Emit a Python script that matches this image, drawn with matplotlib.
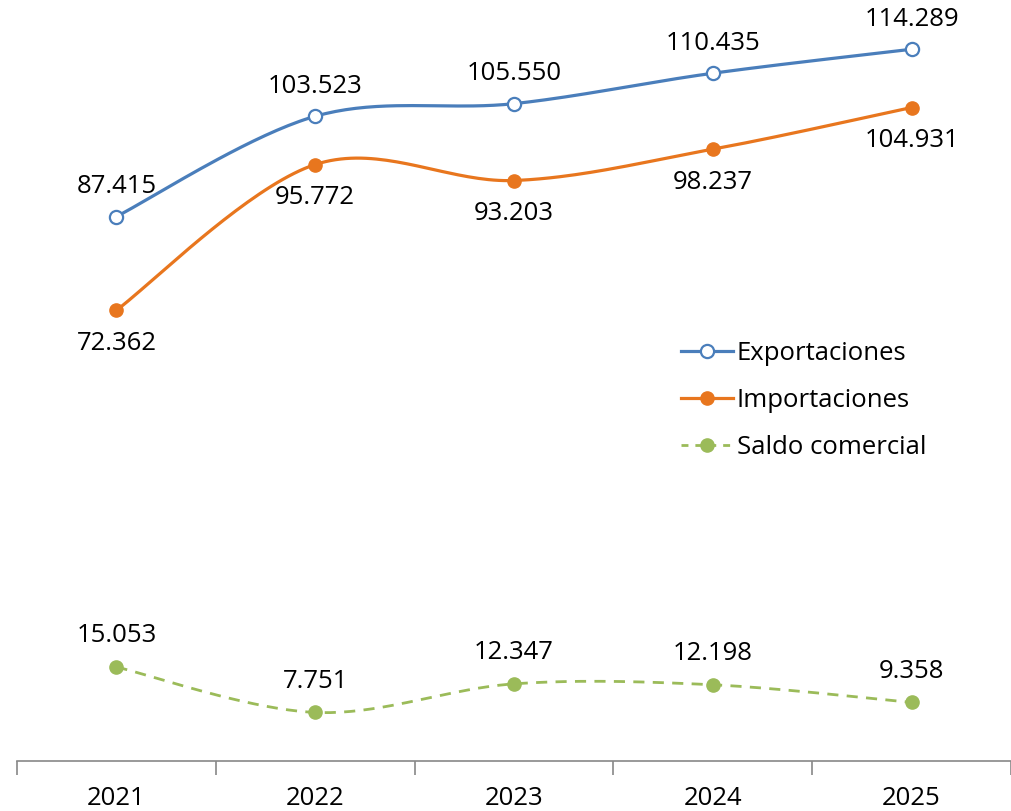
import matplotlib.pyplot as plt
import numpy as np
from matplotlib.lines import Line2D

years = ["2021", "2022", "2023", "2024", "2025"]
exportaciones = [87.415, 103.523, 105.550, 110.435, 114.289]
importaciones = [72.362, 95.772, 93.203, 98.237, 104.931]
saldo = [15.053, 7.751, 12.347, 12.198, 9.358]

plt.rcParams["font.family"] = ["Open Sans", "DejaVu Sans"]


def smooth(xs, ys, n=40):
    # Excel-like smoothed line (Catmull-Rom as cubic Bezier)
    xs = np.asarray(xs, float)
    ys = np.asarray(ys, float)
    px, py = [], []
    for i in range(len(xs) - 1):
        i0 = max(i - 1, 0)
        i3 = min(i + 2, len(xs) - 1)
        c1x = xs[i] + (xs[i + 1] - xs[i0]) / 6
        c1y = ys[i] + (ys[i + 1] - ys[i0]) / 6
        c2x = xs[i + 1] - (xs[i3] - xs[i]) / 6
        c2y = ys[i + 1] - (ys[i3] - ys[i]) / 6
        t = np.linspace(0, 1, n)
        bx = (1 - t) ** 3 * xs[i] + 3 * (1 - t) ** 2 * t * c1x + 3 * (1 - t) * t ** 2 * c2x + t ** 3 * xs[i + 1]
        by = (1 - t) ** 3 * ys[i] + 3 * (1 - t) ** 2 * t * c1y + 3 * (1 - t) * t ** 2 * c2y + t ** 3 * ys[i + 1]
        px.extend(bx)
        py.extend(by)
    return np.array(px), np.array(py)


def fmt(v):
    return f"{v:.3f}"


fig = plt.figure(figsize=(10.11, 8.11), dpi=100)
ax = fig.add_axes([17 / 1011, 50.3 / 811, 994 / 1011, 747 / 811])

x = np.arange(len(years))
blue = "#4A7EBB"
orange = "#E8761E"
green = "#9BBB59"
fs = 18.5

sx, sy = smooth(x, exportaciones)
ax.plot(sx, sy, color=blue, lw=2.3)
ax.plot(x, exportaciones, "o", color=blue, mfc="white", mec=blue, ms=9.5, mew=1.6)

sx, sy = smooth(x, importaciones)
ax.plot(sx, sy, color=orange, lw=2.3)
ax.plot(x, importaciones, "o", color=orange, ms=9.5)

sx, sy = smooth(x, saldo)
ax.plot(sx, sy, color=green, lw=2.0, ls=(0, (4, 3)))
ax.plot(x, saldo, "o", color=green, ms=9.5)

for xi, v in zip(x, exportaciones):
    ax.annotate(fmt(v), (xi, v), xytext=(0, 30), textcoords="offset pixels",
                ha="center", va="center", fontsize=fs)
for xi, v in zip(x, importaciones):
    ax.annotate(fmt(v), (xi, v), xytext=(0, -33), textcoords="offset pixels",
                ha="center", va="center", fontsize=fs)
for xi, v in zip(x, saldo):
    ax.annotate(fmt(v), (xi, v), xytext=(0, 31), textcoords="offset pixels",
                ha="center", va="center", fontsize=fs)

handles = [
    Line2D([], [], color=blue, lw=2.3, marker="o", mfc="white", mec=blue, ms=9.5, mew=1.6),
    Line2D([], [], color=orange, lw=2.3, marker="o", ms=9.5),
    Line2D([], [], color=green, lw=2.0, ls=(0, (2.5, 2.5)), marker="o", ms=9.5),
]
ax.legend(handles, ["Exportaciones", "Importaciones", "Saldo comercial"],
          loc="upper left", bbox_to_anchor=(654 / 994, (760.7 - 331) / 747),
          frameon=False, fontsize=fs, handlelength=2.0, handletextpad=0.15,
          labelspacing=0.85, borderaxespad=0)

ax.set_xlim(-0.5, 4.5)
ax.set_ylim(0, 120)
ax.set_yticks([])
for s in ["top", "right", "left"]:
    ax.spines[s].set_visible(False)
ax.spines["bottom"].set_color("#888888")
ax.spines["bottom"].set_linewidth(1.2)
ax.set_xticks(np.arange(-0.5, 5, 1))
ax.set_xticklabels([])
ax.set_xticks(x, minor=True)
ax.set_xticklabels(years, minor=True, fontsize=fs)
ax.tick_params(axis="x", which="major", length=10, color="#888888", width=1.2)
ax.tick_params(axis="x", which="minor", length=0, pad=18)

fig.savefig("out.png", dpi=100)
